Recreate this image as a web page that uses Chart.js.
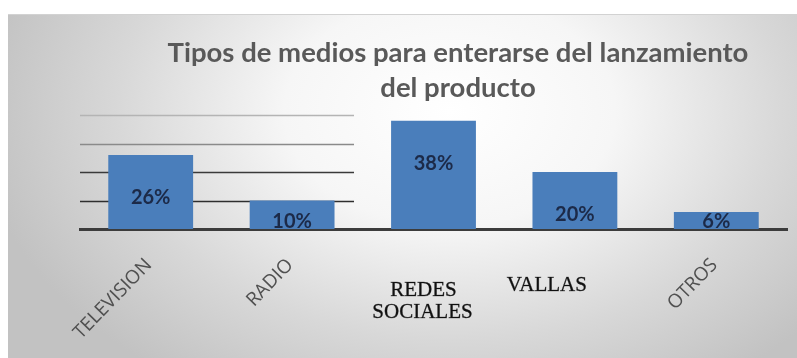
<!DOCTYPE html>
<html><head><meta charset="utf-8">
<script src="https://cdn.jsdelivr.net/npm/chart.js@4/dist/chart.umd.min.js"></script>
<style>
html,body{margin:0;padding:0;background:#fff;width:797px;height:358px;overflow:hidden;}
#bg{position:absolute;left:8px;top:14px;width:789px;height:344px;
background:radial-gradient(ellipse 60% 95% at 56% 28%, #ffffff 0%, #f6f6f6 35%, #d8d8d8 70%, #c2c2c2 100%);
border-top:1px solid #d2d2d2;}
#box{position:absolute;left:0;top:0;width:797px;height:358px;}
</style></head>
<body>
<div id="bg"></div>
<div id="box"><canvas id="c"></canvas></div>
<script>
const titleLines = ["Tipos de medios para enterarse del lanzamiento", "del producto"];
const categories = ["TELEVISION", "RADIO", "REDES SOCIALES", "VALLAS", "OTROS"];
const values = [26, 10, 38, 20, 6];
const valueLabels = ["26%", "10%", "38%", "20%", "6%"];
const gridValues = [10, 20, 30, 40];

const gridPlugin = {
  id: 'partialGrid',
  beforeDatasetsDraw(chart) {
    const ctx = chart.ctx, y = chart.scales.y;
    const colors = {10:'#2e2e2e', 20:'#3a3a3a', 30:'#8a8a8a', 40:'#b4b4b4'};
    ctx.save();
    gridValues.forEach(v => {
      const py = Math.round(y.getPixelForValue(v)) + 0.5;
      ctx.strokeStyle = colors[v]; ctx.lineWidth = 1.3;
      ctx.beginPath(); ctx.moveTo(80, py); ctx.lineTo(354, py); ctx.stroke();
    });
    ctx.restore();
  }
};

const titlePlugin = {
  id: 'customTitle',
  afterDraw(chart) {
    const ctx = chart.ctx;
    ctx.save();
    ctx.fillStyle = '#595959';
    ctx.font = 'bold 27.5px Lato';
    ctx.textAlign = 'center'; ctx.textBaseline = 'alphabetic';
    ctx.fillText(titleLines[0], 458, 62);
    ctx.fillText(titleLines[1], 458, 97);
    ctx.restore();
  }
};

const valuePlugin = {
  id: 'valueLabels',
  afterDatasetsDraw(chart) {
    const ctx = chart.ctx;
    const meta = chart.getDatasetMeta(0);
    ctx.save();
    ctx.fillStyle = '#1c2a48';
    ctx.font = 'bold 20px Lato';
    ctx.textAlign = 'center'; ctx.textBaseline = 'middle';
    meta.data.forEach((bar, i) => {
      const ly = Math.min(bar.y + 43, bar.base - 7);
      ctx.fillText(valueLabels[i], bar.x, ly);
    });
    ctx.restore();
  }
};

const xLabelPlugin = {
  id: 'xLabels',
  afterDraw(chart) {
    const ctx = chart.ctx, xs = chart.scales.x;
    ctx.save();
    categories.forEach((cat, i) => {
      const cx = xs.getPixelForValue(i);
      if (cat === 'REDES SOCIALES' || cat === 'VALLAS') {
        ctx.fillStyle = '#111'; ctx.font = '21px "Liberation Serif"';
        ctx.strokeStyle = 'rgba(17,17,17,0.6)'; ctx.lineWidth = 0.5;
        ctx.textAlign = 'center'; ctx.textBaseline = 'middle';
        const parts = cat === 'VALLAS' ? [[cat, cx - 28, 285]] : [['REDES', cx - 10, 290], ['SOCIALES', cx - 11, 312]];
        parts.forEach(([t, px, py]) => { ctx.fillText(t, px, py); ctx.strokeText(t, px, py); });
      } else {
        ctx.save();
        ctx.fillStyle = '#505050'; ctx.font = '19px "Open Sans"';
        ctx.translate(cx - 2, 262);
        ctx.rotate(-Math.PI * 0.255);
        ctx.textAlign = 'right'; ctx.textBaseline = 'middle';
        ctx.fillText(cat, 0, 0);
        ctx.restore();
      }
    });
    ctx.restore();
  }
};

new Chart(document.getElementById('c'), {
  type: 'bar',
  data: {
    labels: categories,
    datasets: [{
      data: values,
      backgroundColor: '#4a7ebb',
      borderWidth: 0,
      categoryPercentage: 1.0,
      barPercentage: 0.6
    }]
  },
  options: {
    responsive: true,
    maintainAspectRatio: false,
    animation: false,
    layout: { padding: { left: 80, right: 10, top: 115, bottom: 121 } },
    plugins: { legend: { display: false }, title: { display: false }, tooltip: { enabled: false } },
    scales: {
      x: {
        grid: { display: false },
        ticks: { display: false },
        border: { display: true, color: '#3c3c3c', width: 3 }
      },
      y: {
        min: 0, max: 40,
        display: false
      }
    }
  },
  plugins: [gridPlugin, valuePlugin, xLabelPlugin, titlePlugin]
});
</script>
</body></html>
